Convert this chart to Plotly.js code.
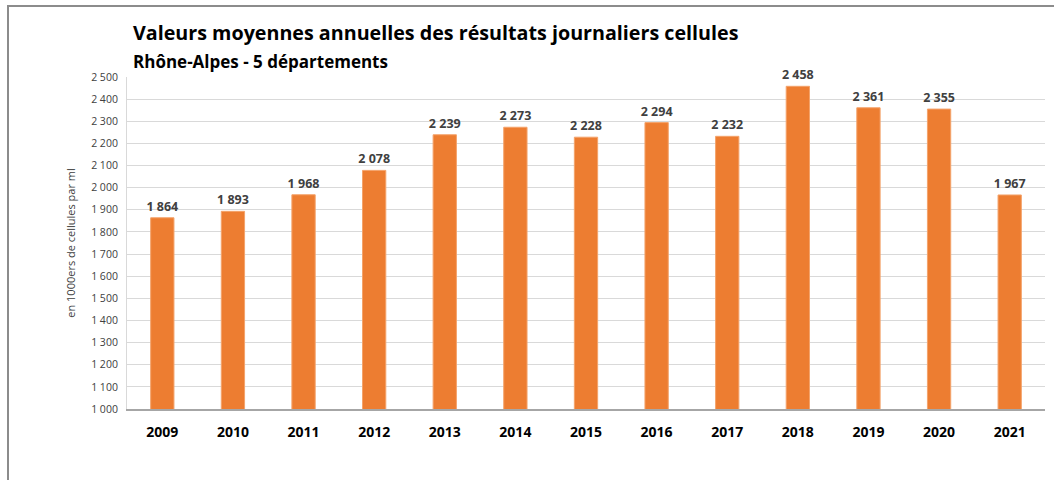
<!DOCTYPE html>
<html><head><meta charset="utf-8">
<script src="https://cdn.plot.ly/plotly-3.0.1.min.js"></script>
<style>
html,body{margin:0;padding:0;background:#fff;}
#wrap{position:relative;width:1054px;height:480px;overflow:hidden;}
#chart{width:1054px;height:480px;}
#frame{position:absolute;left:7px;top:5px;width:1100px;height:600px;border-left:2px solid #8c8c8c;border-top:2px solid #8c8c8c;pointer-events:none;box-sizing:border-box;}
</style></head>
<body><div id="wrap"><div id="chart"></div><div id="frame"></div></div>
<script>
const years = ["2009","2010","2011","2012","2013","2014","2015","2016","2017","2018","2019","2020","2021"];
const values = [1864,1893,1968,2078,2239,2273,2228,2294,2232,2458,2361,2355,1967];
const tickVals = [1000,1100,1200,1300,1400,1500,1600,1700,1800,1900,2000,2100,2200,2300,2400,2500];
const titleText = "Valeurs moyennes annuelles des résultats journaliers cellules";
const subtitleText = "Rhône-Alpes - 5 départements";
const yTitle = "en 1000ers de cellules par ml";

const fmt = v => String(v).replace(/\B(?=(\d{3})+(?!\d))/g, "\u00a0");
const FONT = "'Open Sans', sans-serif";

const trace = {
  type: "bar", x: years, y: values,
  marker: {color: "#ed7d31", line: {color: "#f4a36b", width: 1}},
  text: values.map(fmt), textposition: "outside", cliponaxis: false, constraintext: "none",
  textfont: {family: FONT, size: 12.5, color: "#404040", weight: "bold"},
  hoverinfo: "x+y"
};
const layout = {
  width: 1054, height: 480,
  margin: {l: 127, r: 9, t: 77, b: 71},
  paper_bgcolor: "#fff", plot_bgcolor: "#fff",
  bargap: 0.67,
  showlegend: false,
  font: {family: FONT, color: "#404040"},
  xaxis: {type: "category", showline: true, linecolor: "#a6a6a6", linewidth: 1.5,
    ticks: "", tickfont: {family: FONT, size: 14, color: "#000", weight: "bold"}, ticklabelstandoff: 10},
  yaxis: {range: [1000, 2500], tickvals: tickVals, ticktext: tickVals.map(fmt),
    showgrid: true, gridcolor: "#d9d9d9", gridwidth: 1, zeroline: false,
    showline: true, linecolor: "#d9d9d9", ticks: "", ticklabelstandoff: 6,
    tickfont: {family: FONT, size: 10.5, color: "#404040"},
    title: {text: yTitle, font: {family: FONT, size: 11, color: "#404040"}, standoff: 13}},
  annotations: [
    {xref: "paper", yref: "paper", x: 0, y: 1, xshift: 4, yshift: 29, xanchor: "left", yanchor: "bottom",
     text: "<b>" + titleText + "</b>", showarrow: false, font: {family: FONT, size: 19.7, color: "#000"}},
    {xref: "paper", yref: "paper", x: 0, y: 1, xshift: 4, yshift: 2, xanchor: "left", yanchor: "bottom",
     text: "<b>" + subtitleText + "</b>", showarrow: false, font: {family: FONT, size: 17, color: "#000"}}
  ]
};
Plotly.newPlot("chart", [trace], layout, {displayModeBar: false, staticPlot: true});
</script></body></html>
